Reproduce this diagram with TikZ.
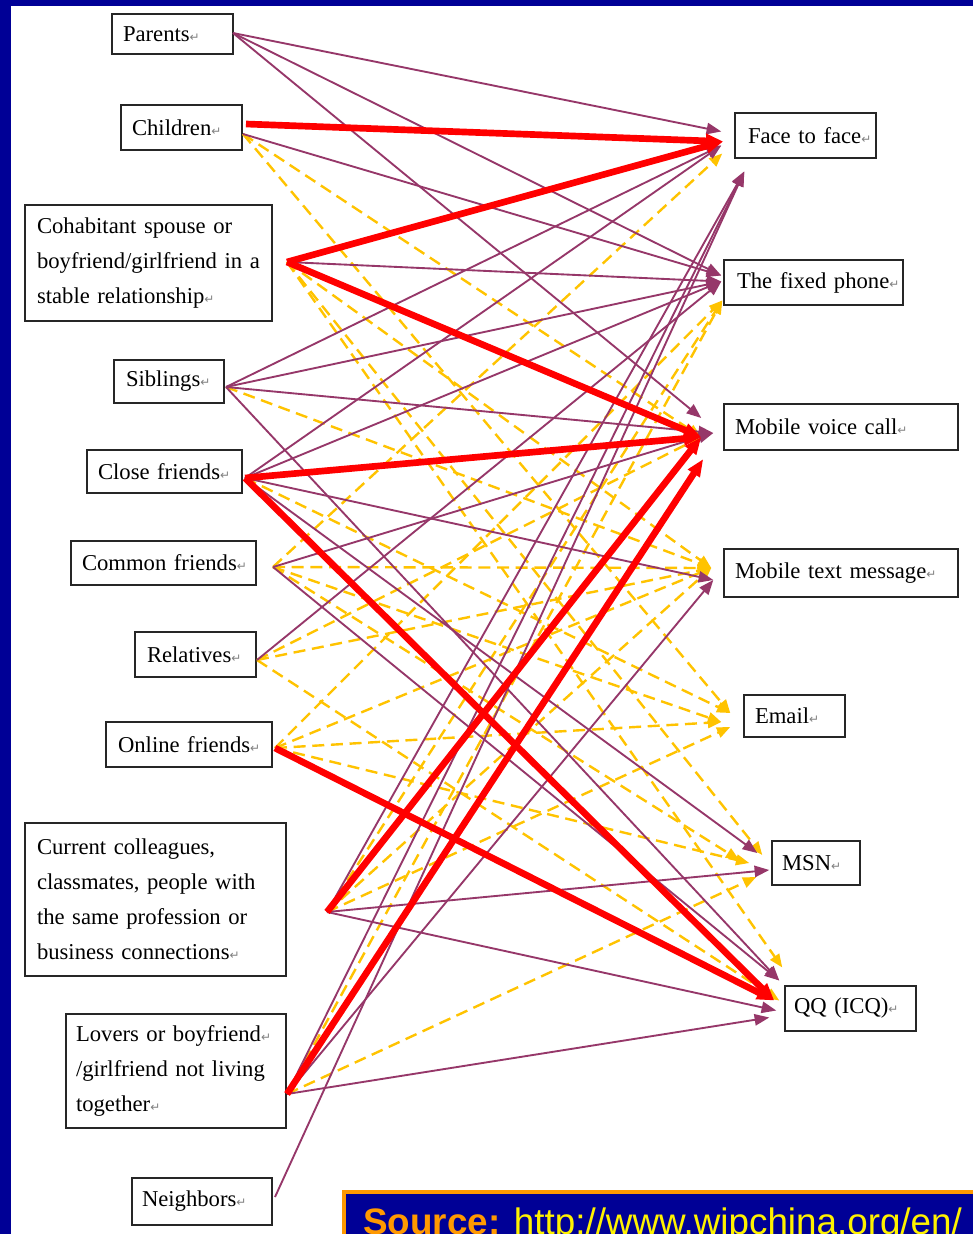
\documentclass[tikz,border=0pt]{standalone}
\usepackage{fontspec}
\setmainfont{Liberation Serif}
\newfontfamily\symfont{DejaVu Sans}
\newfontfamily\arialfont{Liberation Sans}
\usetikzlibrary{arrows.meta,calc}
\definecolor{bgblue}{RGB}{0,0,150}
\definecolor{plum}{RGB}{150,55,105}
\definecolor{gold}{RGB}{255,195,0}
\definecolor{srcorange}{RGB}{255,153,0}
\newcommand\pmk{{\symfont\color{gray}\fontsize{9}{9}\selectfont ↵}}
\tikzset{
  bx/.style={draw=black!85, line width=1.1pt, fill=white, rectangle, inner ysep=0pt,
    align=left, font=\fontsize{17}{26.25}\selectfont},
  pl/.style={draw=plum, line width=1.4pt, -{Triangle[length=11pt,width=8.5pt]}},
  rl/.style={draw=red, line width=5pt, -{Triangle[length=13pt,width=10pt]}},
  yl/.style={draw=gold, line width=1.8pt, dash pattern=on 9pt off 5pt, -{Triangle[length=10pt,width=8pt]}},
}
\begin{document}
\begin{tikzpicture}[x=0.75pt,y=-0.75pt]
\useasboundingbox (0,0) rectangle (973,1234);
\fill[bgblue] (0,0) rectangle (973,1234);
\fill[white] (11,6) rectangle (973,1234);

% left boxes
\node[bx, text width=74.25pt, inner xsep=8.25pt, minimum height=30pt] (parents) at (172.5,34) {\mbox{Parents\pmk}};
\node[bx, text width=74.25pt, inner xsep=8.25pt, minimum height=33.75pt] (children) at (181.5,127.5) {\mbox{Children\pmk}};
\node[bx, text width=167.25pt, inner xsep=9pt, minimum height=87pt] (cohab) at (148.5,263) {Cohabitant spouse or\\\mbox{boyfriend/girlfriend in a}\\stable relationship\pmk};
\node[bx, text width=64.5pt, inner xsep=9pt, minimum height=32.25pt] (siblings) at (169,381.5) {\mbox{Siblings\pmk}};
\node[bx, text width=99.75pt, inner xsep=8.25pt, minimum height=32.25pt] (close) at (164.5,471.5) {\mbox{Close friends\pmk}};
\node[bx, text width=122.25pt, inner xsep=8.25pt, minimum height=33pt] (common) at (163.5,563) {\mbox{Common friends\pmk}};
\node[bx, text width=72.75pt, inner xsep=9pt, minimum height=33.75pt] (relatives) at (195.5,654.5) {\mbox{Relatives\pmk}};
\node[bx, text width=106.5pt, inner xsep=9pt, minimum height=33.75pt] (online) at (189,744.5) {\mbox{Online friends\pmk}};
\node[bx, text width=177.75pt, inner xsep=9pt, minimum height=114.75pt] (colleagues) at (155.5,899.5) {Current colleagues,\\classmates, people with\\the same profession or\\business connections\pmk};
\node[bx, text width=150pt, inner xsep=7.5pt, minimum height=85.5pt] (lovers) at (176,1071) {\mbox{Lovers or boyfriend\pmk}\\/girlfriend not living\\together\pmk};
\node[bx, text width=90pt, inner xsep=7.5pt, minimum height=35.25pt] (neighbors) at (202,1201.5) {\mbox{Neighbors\pmk}};

% right boxes
\node[bx, text width=86.25pt, inner xsep=9.75pt, minimum height=33.75pt] (ftf) at (805.5,135.5) {\mbox{Face to face\pmk}};
\node[bx, text width=114.75pt, inner xsep=9.75pt, minimum height=33.75pt] (fixed) at (813.5,282.5) {\mbox{The fixed phone\pmk}};
\node[bx, text width=159pt, inner xsep=8.25pt, minimum height=34.5pt] (mvc) at (841,427) {\mbox{Mobile voice call\pmk}};
\node[bx, text width=159pt, inner xsep=8.25pt, minimum height=36pt] (mtm) at (841,573) {\mbox{Mobile text message\pmk}};
\node[bx, text width=59.25pt, inner xsep=8.25pt, minimum height=31.5pt] (email) at (794.5,716) {\mbox{Email\pmk}};
\node[bx, text width=51pt, inner xsep=7.5pt, minimum height=33pt] (msn) at (816,863) {\mbox{MSN\pmk}};
\node[bx, text width=84.75pt, inner xsep=6.75pt, minimum height=33.75pt] (qq) at (850.5,1008.5) {\mbox{QQ (ICQ)\pmk}};

% source start coordinates
\coordinate (sPar) at (233,33);
\coordinate (sChR) at (246,124);
\coordinate (sCh) at (243,134);
\coordinate (sCo) at (287,262);
\coordinate (sSib) at (226,387);
\coordinate (sCl) at (245,478);
\coordinate (sCom) at (273,567);
\coordinate (sRel) at (257,660);
\coordinate (sOn) at (275,748);
\coordinate (sColl) at (327,912);
\coordinate (sLov) at (287,1094);
\coordinate (sNei) at (275,1197);
% target end coordinates
\coordinate (tF1) at ($(ftf.west)+(-13,-4)$);
\coordinate (tF2) at ($(ftf.west)+(-11,6)$);
\coordinate (tF3) at ($(ftf.west)+(-13,10)$);
\coordinate (tF4) at ($(ftf.west)+(-12,18)$);
\coordinate (tFb) at ($(ftf.west)+(10,36)$);
\coordinate (tX1) at ($(fixed.west)+(-2,-7)$);
\coordinate (tX2) at ($(fixed.west)+(-2,-1)$);
\coordinate (tX3) at ($(fixed.west)+(-1,18)$);
\coordinate (tV1) at ($(mvc.west)+(-22,-9)$);
\coordinate (tV2) at ($(mvc.west)+(-22,10)$);
\coordinate (tV3) at ($(mvc.west)+(-10,6)$);
\coordinate (tV4) at ($(mvc.west)+(-20,32)$);
\coordinate (tM1) at ($(mtm.west)+(-12,-5)$);
\coordinate (tM2) at ($(mtm.west)+(-10,7)$);
\coordinate (tE1) at ($(email.west)+(-13,-3)$);
\coordinate (tE2) at ($(email.west)+(-22,6)$);
\coordinate (tE3) at ($(email.west)+(-13,11)$);
\coordinate (tS1) at ($(msn.west)+(-9,-8)$);
\coordinate (tS2) at ($(msn.west)+(-14,-10)$);
\coordinate (tS3) at ($(msn.west)+(-32,-3)$);
\coordinate (tS4) at ($(msn.west)+(-22,0)$);
\coordinate (tS5) at ($(msn.west)+(-2,7)$);
\coordinate (tS6) at ($(msn.west)+(-15,14)$);
\coordinate (tQ1) at ($(qq.west)+(-2,-41)$);
\coordinate (tQ2) at ($(qq.west)+(-5,-28)$);
\coordinate (tQ3) at ($(qq.west)+(-10,-8)$);
\coordinate (tQ4) at ($(qq.west)+(-5,-8)$);
\coordinate (tQ5) at ($(qq.west)+(-8,2)$);
\coordinate (tQ6) at ($(qq.west)+(-15,9)$);

% yellow dashed
\draw[yl] (sCh) -- (tV2);
\draw[yl] (sCh) -- (tE1);
\draw[yl] (sCo) -- (tQ1);
\draw[yl] (sCo) -- (tM1);
\draw[yl] (sCo) -- (tS1);
\draw[yl] (sSib) -- (tM1);
\draw[yl] (sCl) -- (tE1);
\draw[yl] (sCom) -- (tF4);
\draw[yl] (sCom) -- (tM1);
\draw[yl] (sCom) -- (tE2);
\draw[yl] (sCom) -- (tS3);
\draw[yl] (sRel) -- (tV2);
\draw[yl] (sRel) -- (tM1);
\draw[yl] (sRel) -- (tQ4);
\draw[yl] (sOn) -- (tX3);
\draw[yl] (sOn) -- (tM1);
\draw[yl] (sOn) -- (tE2);
\draw[yl] (sOn) -- (tS4);
\draw[yl] (sColl) -- (tE3);
\draw[yl] (sColl) -- (tM1);
\draw[yl] (sColl) -- (tX3);
\draw[yl] (sLov) -- (tS6);
\draw[yl] (sLov) -- (tX3);

% purple
\draw[pl] (sPar) -- (tF1);
\draw[pl] (sPar) -- (tX1);
\draw[pl] (sPar) -- (tV1);
\draw[pl] (sCh) -- (tX1);
\draw[pl] (sCo) -- (tX2);
\draw[pl] (sSib) -- (tF3);
\draw[pl] (sSib) -- (tX2);
\draw[pl] (sSib) -- (tV3);
\draw[pl] (sSib) -- (tQ2);
\draw[pl] (sCl) -- (tF3);
\draw[pl] (sCl) -- (tX2);
\draw[pl] (sCl) -- (tM2);
\draw[pl] (sCl) -- (tS2);
\draw[pl] (sCom) -- (tV3);
\draw[pl] (sCom) -- (tQ2);
\draw[pl] (sRel) -- (tX2);
\draw[pl] (sColl) -- (tFb);
\draw[pl] (sColl) -- (tS5);
\draw[pl] (sColl) -- (tQ5);
\draw[pl] (sLov) -- (tFb);
\draw[pl] (sLov) -- (tM2);
\draw[pl] (sLov) -- (tQ6);
\draw[pl] (sNei) -- (tFb);

% red
\draw[rl] (sChR) -- (tF2);
\draw[rl] (sCo) -- (tF2);
\draw[rl] (sCo) -- (tV2);
\draw[rl] (sCl) -- (tV2);
\draw[rl] (sCl) -- (tQ3);
\draw[rl] (sOn) -- (tQ3);
\draw[rl] (sColl) -- (tV2);
\draw[rl] (sLov) -- (tV4);

% source banner
\node[draw=srcorange, line width=3pt, fill=bgblue, minimum width=487.5pt, minimum height=52.5pt, anchor=north west] (srcbox) at (342,1190) {};
\node[anchor=base west, inner sep=0pt, font=\arialfont\fontsize{27.6}{30}\selectfont] (srctext) at (363,1234) {\textcolor{srcorange}{\bfseries Source:} \textcolor{yellow}{http://www.wipchina.org/en/}};
\end{tikzpicture}
\end{document}
